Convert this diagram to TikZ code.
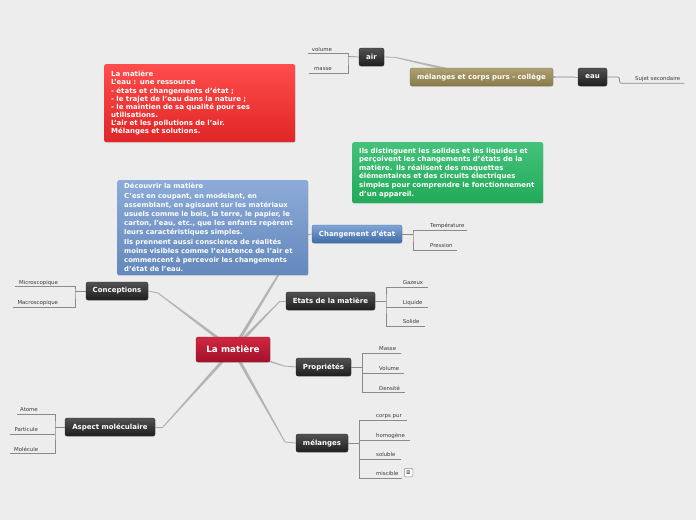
\documentclass[tikz,border=0pt]{standalone}
\usepackage{fontspec}
\setmainfont{DejaVu Sans}
\usetikzlibrary{calc,shadows}

\definecolor{bgcol}{HTML}{EDEDED}
\definecolor{trunkcol}{HTML}{B4B4B4}
\definecolor{twigcol}{HTML}{A8A8A8}
\definecolor{branchcol}{HTML}{8A8A8A}
\definecolor{leafcol}{HTML}{3A3A3A}
\definecolor{centtop}{HTML}{D02840}
\definecolor{centbot}{HTML}{A3102A}
\definecolor{bluetop}{HTML}{80A6D6}
\definecolor{bluebot}{HTML}{3E6BA6}
\definecolor{olivetop}{HTML}{AEA072}
\definecolor{olivebot}{HTML}{887948}
\definecolor{redtop}{HTML}{FF4C4C}
\definecolor{redmid}{HTML}{E40000}
\definecolor{redbot}{HTML}{E02626}
\definecolor{greentop}{HTML}{45C27A}
\definecolor{greenmid}{HTML}{0E9E48}
\definecolor{greenbot}{HTML}{22AA5A}
\definecolor{ntop}{HTML}{8CABD8}
\definecolor{nmid}{HTML}{4A74AB}
\definecolor{nbot}{HTML}{6488BC}

\tikzset{
  topic/.style={rounded corners=2pt, minimum height=18pt, inner sep=0pt,
    text=white, font=\fontsize{7}{8}\selectfont\bfseries,
    top color=black!68, bottom color=black!88, draw=black!85, line width=0.3pt,
    drop shadow={opacity=0.25, shadow xshift=0.4pt, shadow yshift=-0.8pt}},
  topicblue/.style={topic, top color=bluetop, bottom color=bluebot, draw=bluebot},
  topicolive/.style={topic, top color=olivetop, bottom color=olivebot, draw=olivebot},
  centre/.style={topic, top color=centtop, bottom color=centbot, draw=centbot,
    font=\fontsize{8.8}{10}\selectfont\bfseries},
  note/.style={rounded corners=2pt, anchor=north west, text=white, align=left,
    inner xsep=7pt, inner ysep=3pt, text width=177pt,
    drop shadow={opacity=0.2, shadow xshift=0.4pt, shadow yshift=-0.8pt}},
  redbox/.style={note, top color=redtop, middle color=redmid, bottom color=redbot,
    font=\fontsize{7}{8.15}\selectfont\bfseries},
  greenbox/.style={note, top color=greentop, middle color=greenmid, bottom color=greenbot,
    font=\fontsize{7}{8.6}\selectfont\bfseries},
  bluebox/.style={note, top color=ntop, middle color=nmid, bottom color=nbot,
    font=\fontsize{6.85}{9.2}\selectfont\bfseries},
  leaf/.style={anchor=south west, inner xsep=0pt, inner ysep=2.4pt, text depth=0pt,
    text=leafcol, font=\fontsize{5.4}{6}\selectfont},
  trunk/.style={fill=trunkcol},
  twig/.style={draw=twigcol, line width=0.8pt},
  branch/.style={draw=branchcol, line width=0.7pt},
}

\begin{document}
\begin{tikzpicture}[x=1pt, y=-1pt]
  \useasboundingbox (0,0) rectangle (696,520);
  \fill[bgcol] (0,0) rectangle (696,520);

  % main topic and its branches
  \coordinate (lm) at (233,349.5);
  \coordinate (bconc) at (158,293);
  \coordinate (basp) at (163,427);
  \coordinate (bchg) at (302,236);
  \coordinate (betat) at (280,301);
  \coordinate (bprop) at (284,366);
  \coordinate (bmel) at (285,442);
  \foreach \b in {bconc,basp,bchg,betat,bprop,bmel}
    \fill[trunk] ($(lm)!1.7pt!90:(\b)$) -- ($(\b)!0.5pt!-90:(lm)$)
      -- ($(\b)!0.5pt!90:(lm)$) -- ($(lm)!1.7pt!-90:(\b)$) -- cycle;

  % second map
  \coordinate (mcp) at (481.5,77);
  \coordinate (bair) at (395,57.3);
  \coordinate (beau) at (575,77);
  \foreach \b in {bair,beau}
    \fill[trunk] ($(mcp)!1.7pt!90:(\b)$) -- ($(\b)!0.5pt!-90:(mcp)$)
      -- ($(\b)!0.5pt!90:(mcp)$) -- ($(mcp)!1.7pt!-90:(\b)$) -- cycle;

  \node[centre, minimum width=74pt, minimum height=25pt] (matiere) at (lm) {La matière};
  \node[topicolive, minimum width=143pt] (college) at (mcp) {mélanges et corps purs - collège};
  \node[topic, minimum width=62pt] (conc) at (117,291) {Conceptions};
  \node[topic, minimum width=90pt] (asp) at (110,427) {Aspect moléculaire};
  \node[topicblue, minimum width=90pt] (chg) at (357,234) {Changement d'état};
  \node[topic, minimum width=89pt] (etat) at (330.5,301) {Etats de la matière};
  \node[topic, minimum width=55pt] (prop) at (323.5,367) {Propriétés};
  \node[topic, minimum width=52pt] (mel) at (322,443) {mélanges};
  \node[topic, minimum width=25pt] (air) at (371.5,57) {air};
  \node[topic, minimum width=29pt] (eau) at (592.5,77) {eau};

  \draw[twig] (bconc) -- (conc.east);
  \draw[twig] (basp) -- (asp.east);
  \draw[twig] (bchg) -- (chg.west);
  \draw[twig] (betat) -- (etat.west);
  \draw[twig] (bprop) -- (prop.west);
  \draw[twig] (bmel) -- (mel.west);
  \draw[twig] (bair) -- (air.east);
  \draw[twig] (beau) -- (eau.west);

  % notes
  \node[redbox, minimum height=78pt] (nred) at (104,64) {La matière\\
    L’eau : une ressource\\
    - états et changements d'état ;\\
    - le trajet de l’eau dans la nature ;\\
    - le maintien de sa qualité pour ses\\
    utilisations.\\
    L’air et les pollutions de l'air.\\
    Mélanges et solutions.};
  \node[greenbox, minimum height=61pt] (ngreen) at (352,142) {Ils distinguent les solides et les liquides et\\
    perçoivent les changements d'états de la\\
    matière. Ils réalisent des maquettes\\
    élémentaires et des circuits électriques\\
    simples pour comprendre le fonctionnement\\
    d'un appareil.};
  \node[bluebox, minimum height=95pt] (nblue) at (117,180) {Découvrir la matière\\
    C’est en coupant, en modelant, en\\
    assemblant, en agissant sur les matériaux\\
    usuels comme le bois, la terre, le papier, le\\
    carton, l’eau, etc., que les enfants repèrent\\
    leurs caractéristiques simples.\\
    Ils prennent aussi conscience de réalités\\
    moins visibles comme l’existence de l’air et\\
    commencent à percevoir les changements\\
    d’état de l’eau.};

  % leaves of Conceptions
  \node[leaf] (micro) at (19,286.7) {Microscopique};
  \node[leaf] (macro) at (17.3,307.3) {Macroscopique};
  \coordinate (jconc) at (75,291);
  \draw[branch] (conc.west) -- (jconc);
  \draw[branch] ([xshift=-4pt]micro.south west) -| (jconc) |- ([xshift=-4pt]macro.south west);

  % leaves of Aspect moléculaire
  \node[leaf] (atome) at (20,414.3) {Atome};
  \node[leaf] (part) at (14.3,434) {Particule};
  \node[leaf] (molec) at (14,453.7) {Molécule};
  \coordinate (jasp) at (55,427);
  \draw[branch] (asp.west) -- (jasp);
  \draw[branch] ([xshift=-3pt]atome.south west) -| (jasp) |- ([xshift=-4pt]molec.south west);
  \draw[branch] ([xshift=-4pt]part.south west) -- (part.south west -| jasp);

  % leaves of Changement d'état
  \node[leaf] (temp) at (430,230) {Température};
  \node[leaf] (pres) at (430,250) {Pression};
  \coordinate (jchg) at (413,234);
  \draw[branch] (chg.east) -- (jchg);
  \draw[branch] ([xshift=2pt]temp.south east) -| (jchg) |- ([xshift=4pt]pres.south east);

  % leaves of Etats de la matière
  \node[leaf] (gaz) at (402.7,287) {Gazeux};
  \node[leaf] (liq) at (402.7,307) {Liquide};
  \node[leaf] (sol) at (402.7,326) {Solide};
  \coordinate (jetat) at (386,301);
  \draw[branch] (etat.east) -- (jetat);
  \draw[branch] ([xshift=5pt]gaz.south east) -| (jetat) |- ([xshift=5pt]sol.south east);
  \draw[branch] (liq.south west -| jetat) -- ([xshift=5pt]liq.south east);

  % leaves of Propriétés
  \node[leaf] (masse) at (379,353.3) {Masse};
  \node[leaf] (vol) at (379,373.3) {Volume};
  \node[leaf] (dens) at (379,392.7) {Densité};
  \coordinate (jprop) at (362.3,367);
  \draw[branch] (prop.east) -- (jprop);
  \draw[branch] ([xshift=5pt]masse.south east) -| (jprop) |- ([xshift=5pt]dens.south east);
  \draw[branch] (vol.south west -| jprop) -- ([xshift=5pt]vol.south east);

  % leaves of mélanges
  \node[leaf] (cpur) at (376,420) {corps pur};
  \node[leaf] (homo) at (376,440) {homogène};
  \node[leaf] (solu) at (376,459.3) {soluble};
  \node[leaf] (misc) at (376,478.3) {miscible};
  \coordinate (jmel) at (359.3,443);
  \draw[branch] (mel.east) -- (jmel);
  \draw[branch] ([xshift=5pt]cpur.south east) -| (jmel) |- ([xshift=3pt]misc.south east);
  \draw[branch] (homo.south west -| jmel) -- ([xshift=5pt]homo.south east);
  \draw[branch] (solu.south west -| jmel) -- ([xshift=5pt]solu.south east);
  \node[draw=black!45, fill=white, rounded corners=1pt, line width=0.5pt, minimum size=8.5pt,
    inner sep=0pt, font=\fontsize{6}{6}\selectfont\bfseries, text=black!75] (icon) at (408.5,472.5) {≡};

  % leaves of air and eau
  \node[leaf] (volume) at (311.7,53.7) {volume};
  \node[leaf] (mas) at (314,73.3) {masse};
  \coordinate (jair) at (348,56.5);
  \draw[branch] (air.west) -- (jair);
  \draw[branch] ([xshift=-4pt]volume.south west) -| (jair) |- ([xshift=-5pt]mas.south west);
  \node[leaf] (sujet) at (635,83.3) {Sujet secondaire};
  \coordinate (jeau) at (619.5,77);
  \draw[branch, rounded corners=2pt] (eau.east) -- (jeau) |- ([xshift=4pt]sujet.south east);
\end{tikzpicture}
\end{document}
